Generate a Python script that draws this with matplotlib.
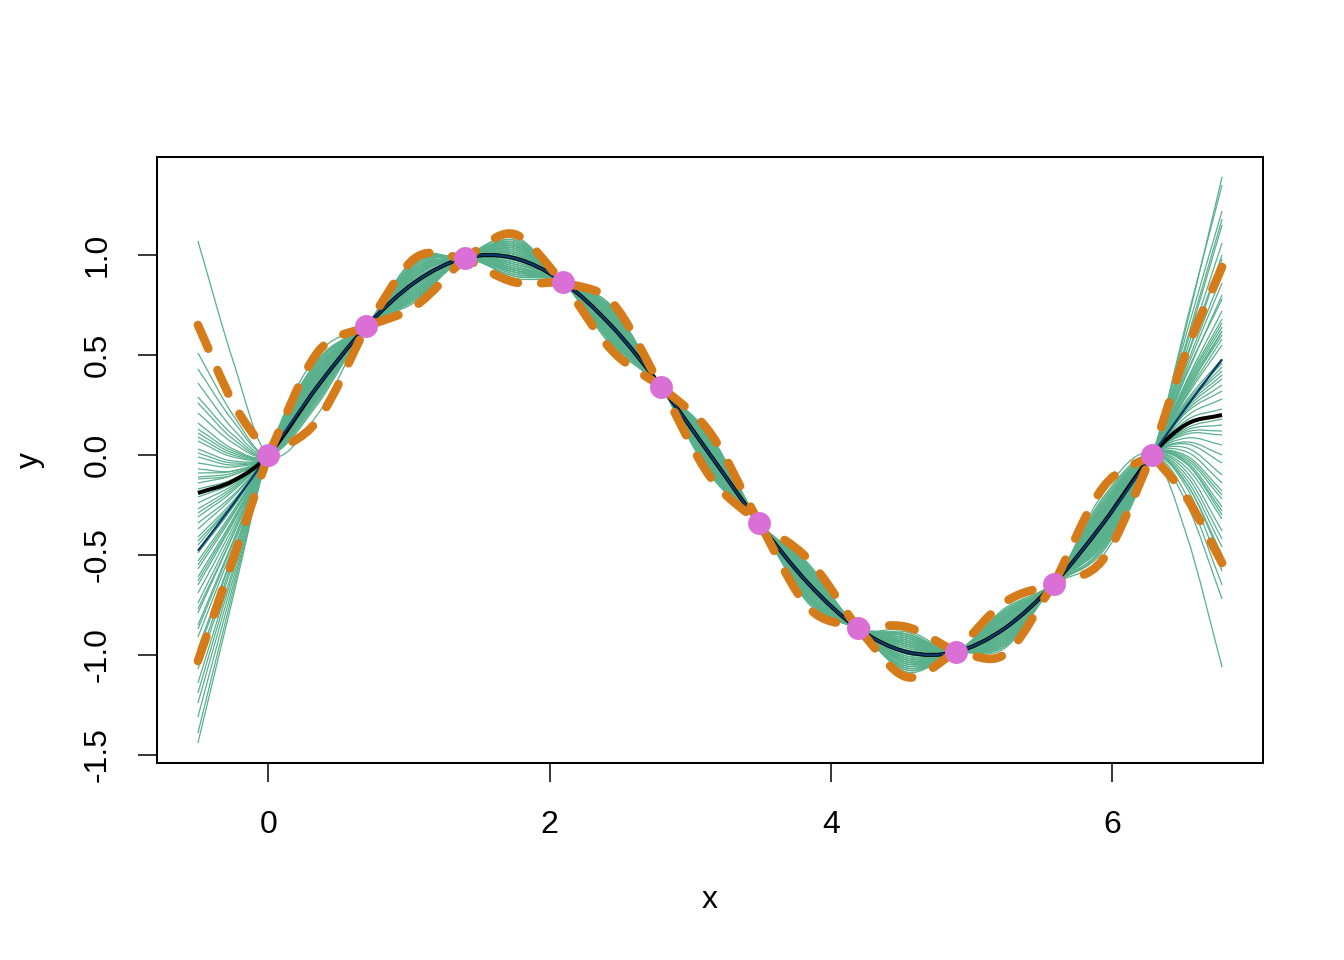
import numpy as np
import matplotlib.pyplot as plt
from matplotlib.path import Path
from matplotlib.patches import PathPatch

plt.rcParams['font.family'] = ['Liberation Sans', 'DejaVu Sans']

# observed points
obs_x = [0.000, 0.698, 1.396, 2.094, 2.793, 3.491, 4.189, 4.887, 5.585, 6.283]
obs_y = [0.000, 0.643, 0.985, 0.866, 0.342, -0.342, -0.866, -0.985, -0.643, 0.000]

# x positions where the curves were read (ends, knots and half way between knots)
grid_x = [-0.50, -0.25, 0.000, 0.349, 0.698, 1.047, 1.396, 1.745, 2.094, 2.443,
          2.793, 3.142, 3.491, 3.840, 4.189, 4.538, 4.887, 5.236, 5.585, 5.934,
          6.283, 6.530, 6.780]

# black curve (posterior mean)
mean_y = [-0.190, -0.130, 0.000, 0.342, 0.643, 0.866, 0.985, 0.985, 0.866, 0.643,
          0.342, 0.000, -0.342, -0.643, -0.866, -0.985, -0.985, -0.866, -0.643, -0.342,
          0.000, 0.155, 0.200]

# dark blue curve (true function)
true_y = [-0.479, -0.247, 0.000, 0.342, 0.643, 0.866, 0.985, 0.985, 0.866, 0.643,
          0.342, 0.000, -0.342, -0.643, -0.866, -0.985, -0.985, -0.866, -0.643, -0.342,
          0.000, 0.244, 0.478]

# half width of the orange dashed band around the mean
band_half = [0.84, 0.39, 0.0, 0.17, 0.0, 0.12, 0.0, 0.12, 0.0, 0.12,
             0.0, 0.11, 0.0, 0.12, 0.0, 0.125, 0.0, 0.13, 0.0, 0.18,
             0.0, 0.37, 0.74]

# green samples: offset from the mean at the non-knot grid points
# columns: x=-0.5, -0.25, the 9 half-way points, 6.53, 6.78
sample_dev = [
    [1.26, 0.60, -0.14, 0.05, -0.03, 0.04, -0.06, 0.02, 0.07, -0.04, 0.10, -0.30, -0.72],
    [0.62, 0.30, -0.08, 0.09, -0.02, -0.05, 0.03, 0.06, -0.04, 0.05, -0.12, 0.40, 0.95],
    [-0.55, -0.25, 0.07, -0.04, 0.08, 0.02, -0.07, -0.03, 0.05, 0.08, 0.04, -0.12, -0.30],
    [0.40, 0.19, -0.05, 0.11, 0.03, -0.08, 0.01, 0.09, -0.02, -0.06, -0.07, 0.25, 0.60],
    [-1.20, -0.55, 0.13, -0.02, -0.06, 0.07, 0.05, -0.09, -0.03, 0.02, 0.15, -0.56, -1.26],
    [0.22, 0.10, -0.02, -0.07, 0.10, 0.03, -0.04, 0.01, 0.11, -0.03, -0.02, 0.10, 0.22],
    [-0.26, -0.11, 0.04, 0.03, -0.09, -0.06, 0.08, 0.04, -0.08, 0.06, -0.16, 0.50, 1.19],
    [-0.88, -0.41, 0.10, 0.07, 0.02, 0.09, -0.03, -0.06, 0.02, -0.09, 0.06, -0.18, -0.42],
    [0.05, 0.03, 0.01, -0.10, -0.05, 0.06, 0.10, -0.02, -0.06, 0.04, -0.05, 0.14, 0.35],
    [-0.42, -0.19, 0.05, 0.02, 0.06, -0.10, -0.02, 0.07, 0.03, -0.02, 0.09, -0.26, -0.62],
    [0.30, 0.14, -0.04, 0.06, -0.07, 0.01, 0.06, -0.08, 0.09, 0.07, -0.10, 0.33, 0.78],
    [-1.05, -0.49, 0.12, -0.06, 0.04, -0.03, -0.09, 0.05, -0.01, -0.07, 0.01, -0.03, -0.05],
    [-0.12, -0.05, 0.02, 0.08, 0.09, 0.05, -0.05, -0.10, 0.04, 0.10, -0.03, 0.08, 0.18],
    [0.55, 0.26, -0.07, -0.03, -0.10, 0.08, 0.02, 0.03, -0.09, -0.01, 0.12, -0.36, -0.85],
    [-0.66, -0.30, 0.08, 0.10, -0.01, -0.07, 0.07, 0.08, 0.06, -0.05, -0.08, 0.22, 0.52],
    [0.15, 0.07, -0.01, -0.05, 0.07, -0.04, -0.08, 0.00, -0.05, 0.09, 0.05, -0.14, -0.34],
    [-0.34, -0.15, 0.03, 0.04, -0.04, 0.10, 0.04, -0.05, 0.08, 0.01, -0.14, 0.46, 1.02],
    [-1.25, -0.58, 0.16, -0.08, 0.01, -0.02, 0.09, 0.06, -0.07, 0.03, 0.07, -0.20, -0.48],
    [0.08, 0.04, 0.00, 0.12, 0.05, 0.00, -0.06, -0.07, 0.01, -0.08, -0.01, 0.04, 0.08],
    [-0.50, -0.23, 0.06, -0.09, -0.08, 0.06, 0.00, 0.10, 0.05, 0.06, 0.11, -0.32, -0.78],
    [0.35, 0.16, -0.05, 0.01, 0.04, -0.09, 0.08, -0.03, -0.10, -0.04, -0.06, 0.19, 0.44],
    [-0.72, -0.33, 0.09, 0.05, 0.11, 0.04, -0.01, -0.08, 0.03, 0.08, 0.02, -0.07, -0.15],
    [-0.02, -0.01, 0.00, -0.04, -0.06, 0.07, 0.05, 0.04, -0.03, -0.10, -0.11, 0.37, 0.86],
    [0.45, 0.21, -0.06, 0.07, 0.00, -0.06, -0.07, 0.08, 0.10, 0.02, 0.03, -0.09, -0.20],
    [-0.95, -0.44, 0.11, -0.05, 0.06, 0.03, 0.06, -0.04, -0.06, -0.03, -0.04, 0.15, 0.38],
    [0.12, 0.05, -0.02, 0.03, -0.08, -0.03, 0.03, 0.09, 0.00, 0.05, 0.08, -0.24, -0.58],
    [-0.18, -0.08, 0.02, -0.01, 0.02, 0.09, -0.10, -0.01, 0.07, -0.06, -0.09, 0.28, 0.66],
    [-0.60, -0.27, 0.07, 0.06, -0.05, -0.05, 0.05, 0.03, -0.04, 0.07, 0.00, 0.02, 0.03],
    [0.26, 0.12, -0.03, -0.08, 0.06, 0.05, 0.01, -0.06, 0.05, -0.02, 0.13, -0.40, -0.92],
    [-0.80, -0.37, 0.10, 0.04, -0.03, -0.08, -0.04, 0.07, 0.09, 0.00, -0.07, 0.21, 0.48],
    [-0.08, -0.03, 0.01, 0.10, 0.08, 0.01, 0.07, -0.09, -0.05, 0.04, -0.13, 0.52, 1.15],
    [0.18, 0.08, -0.02, -0.06, -0.04, 0.10, -0.05, 0.05, 0.02, 0.09, 0.06, -0.16, -0.38],
    [-0.38, -0.17, 0.05, 0.00, 0.09, -0.04, 0.02, 0.00, -0.08, -0.07, 0.01, 0.06, 0.12],
    [0.02, 0.01, 0.00, 0.06, -0.06, -0.02, 0.09, 0.06, 0.06, 0.03, -0.04, 0.12, 0.28],
    [-1.12, -0.52, 0.13, 0.03, 0.03, 0.05, -0.06, -0.02, 0.00, 0.05, 0.05, -0.17, -0.40],
    [-0.22, -0.10, 0.03, -0.07, 0.07, -0.07, -0.03, 0.08, -0.07, -0.09, -0.08, 0.26, 0.58],
    [0.10, 0.05, -0.01, 0.09, -0.09, 0.04, 0.04, -0.07, 0.08, 0.06, 0.09, -0.28, -0.66],
    [-0.46, -0.21, 0.06, -0.03, 0.01, 0.08, 0.07, 0.02, -0.02, -0.05, -0.02, 0.09, 0.20],
    [-0.15, -0.07, 0.02, 0.05, -0.02, -0.01, -0.08, 0.04, 0.04, 0.08, 0.03, -0.05, -0.10],
    [-0.30, -0.13, 0.04, -0.05, 0.05, 0.02, 0.03, -0.05, -0.01, -0.01, -0.01, 0.16, 0.42],
    [0.70, 0.33, -0.09, -0.04, 0.06, 0.07, -0.02, -0.04, 0.03, -0.08, -0.05, 0.18, 0.42],
    [-0.10, -0.04, 0.01, 0.07, 0.04, -0.08, 0.05, 0.06, -0.09, 0.02, 0.07, -0.20, -0.50],
    [-0.78, -0.36, 0.09, -0.02, -0.07, 0.00, 0.09, -0.07, 0.04, 0.04, -0.03, 0.11, 0.26],
    [0.32, 0.15, -0.04, 0.04, 0.02, 0.06, -0.09, 0.03, -0.04, -0.06, 0.08, -0.22, -0.52],
    [-0.05, -0.02, 0.01, -0.08, 0.10, -0.05, 0.00, 0.05, 0.07, 0.09, -0.09, 0.30, 0.70],
    [-0.58, -0.27, 0.07, 0.08, -0.05, 0.03, 0.06, -0.01, -0.05, -0.04, 0.02, -0.04, -0.08],
    [0.20, 0.09, -0.02, 0.02, 0.08, -0.06, -0.04, 0.09, 0.05, -0.03, -0.06, 0.20, 0.46],
    [-0.36, -0.16, 0.04, -0.06, -0.03, 0.09, 0.08, -0.03, 0.00, 0.07, 0.10, -0.30, -0.70],
    [-1.00, -0.46, 0.12, 0.01, 0.05, -0.01, -0.05, 0.06, -0.08, -0.02, 0.00, 0.07, 0.15],
    [0.48, 0.23, -0.06, -0.09, -0.01, 0.02, 0.07, -0.06, 0.03, 0.05, -0.12, 0.42, 0.98],
    [-0.24, -0.11, 0.03, 0.06, 0.00, -0.08, -0.07, 0.02, 0.09, -0.07, 0.04, -0.10, -0.24],
    [-0.68, -0.31, 0.08, -0.01, 0.07, 0.06, 0.02, 0.09, -0.03, 0.01, -0.05, 0.17, 0.40],
    [0.07, 0.03, 0.00, 0.03, -0.07, 0.03, -0.06, -0.08, 0.06, 0.06, 0.06, -0.19, -0.46],
    [-0.44, -0.20, 0.05, 0.09, 0.03, -0.03, 0.03, 0.04, -0.06, -0.08, -0.10, 0.34, 0.80],
    [0.28, 0.13, -0.03, -0.02, -0.06, 0.08, 0.06, -0.02, 0.01, 0.03, 0.02, -0.02, -0.02],
    [-0.85, -0.39, 0.10, -0.07, 0.02, -0.06, -0.01, 0.03, 0.08, -0.05, -0.02, 0.10, 0.24],
]

x_ticks = [0, 2, 4, 6]
y_ticks = [-1.5, -1.0, -0.5, 0.0, 0.5, 1.0]
y_tick_labels = ['-1.5', '-1.0', '-0.5', '0.0', '0.5', '1.0']

green = '#58B08C'
orange = '#D67B1A'
pink = '#DA70D6'
navy = '#0B3A6A'


def curve_verts(xs, ys):
    # smooth bezier through the points (catmull-rom style tangents)
    xs = np.asarray(xs, float)
    ys = np.asarray(ys, float)
    n = len(xs)
    m = np.empty(n)
    m[0] = (ys[1] - ys[0]) / (xs[1] - xs[0])
    m[-1] = (ys[-1] - ys[-2]) / (xs[-1] - xs[-2])
    m[1:-1] = (ys[2:] - ys[:-2]) / (xs[2:] - xs[:-2])
    verts = [(xs[0], ys[0])]
    codes = [Path.MOVETO]
    for i in range(n - 1):
        h = xs[i + 1] - xs[i]
        verts += [(xs[i] + h / 3, ys[i] + m[i] * h / 3),
                  (xs[i + 1] - h / 3, ys[i + 1] - m[i + 1] * h / 3),
                  (xs[i + 1], ys[i + 1])]
        codes += [Path.CURVE4] * 3
    return verts, codes


def draw_curve(ax, xs, ys, **kw):
    verts, codes = curve_verts(xs, ys)
    ax.add_patch(PathPatch(Path(verts, codes), fill=False, **kw))


def draw_band(ax, xs, ys, **kw):
    # one piece per interval between knots, so the band pinches at the knots
    verts, codes = [], []
    for s in range(0, len(xs) - 1, 2):
        v, c = curve_verts(xs[s:s + 3], ys[s:s + 3])
        if s > 0:
            v, c = v[1:], c[1:]
        verts += v
        codes += c
    ax.add_patch(PathPatch(Path(verts, codes), fill=False, **kw))


gx = np.array(grid_x)
mean_arr = np.array(mean_y)
free_idx = [0, 1] + list(range(3, 20, 2)) + [21, 22]

fig = plt.figure(figsize=(13.44, 9.6), dpi=100)
ax = fig.add_axes([157 / 1344, 197 / 960, 1106 / 1344, 606 / 960])

for row in sample_dev:
    y = mean_arr.copy()
    y[free_idx] += np.array(row)
    draw_curve(ax, gx, y, edgecolor=green, linewidth=0.9, zorder=2)

draw_curve(ax, gx, mean_y, edgecolor='black', linewidth=2.9, zorder=3)
draw_curve(ax, gx, true_y, edgecolor=navy, linewidth=1.6, zorder=4)

upper = mean_arr + np.array(band_half)
lower = mean_arr - np.array(band_half)
for yb in (upper, lower):
    draw_band(ax, gx, yb, edgecolor=orange, linewidth=6.2,
              linestyle=(0, (3.0, 2.7)), capstyle='round', zorder=5)

ax.plot(obs_x, obs_y, 'o', color=pink, markersize=16.5, markeredgewidth=0, zorder=6)

ax.set_xlim(-0.791, 7.071)
ax.set_ylim(-1.54, 1.49)
ax.set_xticks(x_ticks)
ax.set_xticklabels([str(t) for t in x_ticks])
ax.set_yticks(y_ticks)
ax.set_yticklabels(y_tick_labels, rotation=90, va='center')
ax.tick_params(axis='both', length=13.7, width=1.1, labelsize=23, direction='out')
ax.tick_params(axis='x', pad=20)
ax.tick_params(axis='y', pad=18)
for sp in ax.spines.values():
    sp.set_linewidth(1.44)

fig.text(710 / 1344, 1 - 900 / 960, 'x', ha='center', va='center', fontsize=23)
fig.text(30 / 1344, 1 - 460 / 960, 'y', ha='center', va='center', fontsize=23, rotation=90)

fig.savefig('out.png', dpi=100)
